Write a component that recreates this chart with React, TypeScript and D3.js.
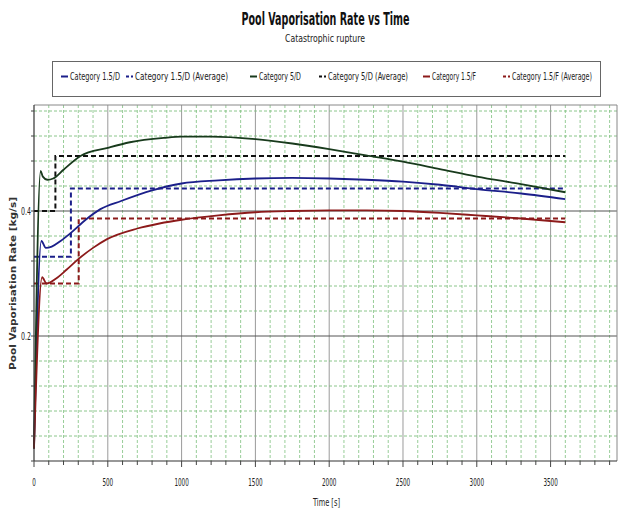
import React from "react";
import * as d3 from "d3";

// ---- Data ----
const cat15DTime = [0, 50, 80, 120, 180, 250, 350, 450, 590, 800, 1000, 1250, 1500, 1750, 2000, 2250, 2500, 2750, 3000, 3300, 3600];
const cat15DRate = [0.02, 0.352, 0.341, 0.343, 0.352, 0.365, 0.386, 0.403, 0.416, 0.433, 0.444, 0.449, 0.452, 0.453, 0.452, 0.450, 0.447, 0.442, 0.435, 0.428, 0.419];

const cat5DTime = [0, 45, 60, 90, 130, 200, 315, 500, 650, 880, 1000, 1200, 1500, 1750, 2000, 2250, 2500, 2750, 3000, 3300, 3600];
const cat5DRate = [0.02, 0.464, 0.455, 0.450, 0.452, 0.466, 0.488, 0.501, 0.510, 0.517, 0.519, 0.519, 0.515, 0.508, 0.499, 0.489, 0.479, 0.467, 0.455, 0.443, 0.430];

const cat15FTime = [0, 55, 85, 150, 220, 300, 400, 495, 700, 850, 1000, 1250, 1500, 1750, 2000, 2250, 2500, 2750, 3000, 3300, 3600];
const cat15FRate = [0.02, 0.294, 0.284, 0.292, 0.306, 0.323, 0.341, 0.355, 0.372, 0.380, 0.386, 0.393, 0.398, 0.400, 0.401, 0.401, 0.400, 0.397, 0.393, 0.388, 0.382];

// averages: step series (start value, value after step)
const avg15DTime = [0, 250, 3600];
const avg15DRate = [0.327, 0.436, 0.436];
const avg5DTime = [0, 145, 3600];
const avg5DRate = [0.400, 0.488, 0.488];
const avg15FTime = [0, 303, 3600];
const avg15FRate = [0.284, 0.388, 0.388];

const xTickLabels = [0, 500, 1000, 1500, 2000, 2500, 3000, 3500];
const yTickLabels = [0.2, 0.4];

const legendLabels = [
  "Category 1.5/D",
  "Category 1.5/D (Average)",
  "Category 5/D",
  "Category 5/D (Average)",
  "Category 1.5/F",
  "Category 1.5/F (Average)",
];

// ---- Styles / layout ----
const BLUE = "#1b1f8a";
const GREEN = "#183a1c";
const RED = "#8c1a1a";
const BLACK = "#111111";

const W = 620;
const H = 509;
const left = 34;
const right = 617;
const top = 105;
const bottom = 461;

const NARROW = "'Liberation Sans Narrow', 'Arial Narrow', 'DejaVu Sans Condensed', sans-serif";

export default function App() {
  const x = d3.scaleLinear().domain([0, 3950]).range([left, right]);
  const y = d3.scaleLinear().domain([0, 0.5696]).range([bottom, top]);

  const line = d3
    .line<[number, number]>()
    .x((d) => x(d[0]))
    .y((d) => y(d[1]))
    .curve(d3.curveMonotoneX);
  const stepLine = d3
    .line<[number, number]>()
    .x((d) => x(d[0]))
    .y((d) => y(d[1]))
    .curve(d3.curveStepAfter);

  const zip = (t: number[], v: number[]) => t.map((tt, i) => [tt, v[i]] as [number, number]);

  const series = [
    { t: cat15DTime, v: cat15DRate, color: BLUE, dashed: false },
    { t: avg15DTime, v: avg15DRate, color: BLUE, dashed: true },
    { t: cat5DTime, v: cat5DRate, color: GREEN, dashed: false },
    { t: avg5DTime, v: avg5DRate, color: BLACK, dashed: true },
    { t: cat15FTime, v: cat15FRate, color: RED, dashed: false },
    { t: avg15FTime, v: avg15FRate, color: RED, dashed: true },
  ];

  const xGrid = d3.range(100, 3950, 100);
  const yGrid = d3.range(1, 15).map((i) => i * 0.04);
  const xTicks = d3.range(0, 3950, 100);
  const yTicks = d3.range(0, 15).map((i) => i * 0.04);

  const legendX = [61, 126, 250, 319, 423, 503];
  const legendW = [50, 93, 42, 80, 44, 80];
  const legendY = 80;

  const drawOrder = [1, 3, 5, 0, 2, 4];

  return (
    <svg width={W} height={H} style={{ position: "absolute", left: 0, top: 0, background: "#fff" }}>
      <rect x={0} y={0} width={W} height={H} fill="#fff" />
      {/* Title */}
      <text x={325.5} y={25} textAnchor="middle" fontFamily={NARROW} fontWeight="bold" fontSize={17} fill="#111"
        textLength={168} lengthAdjust="spacingAndGlyphs">
        Pool Vaporisation Rate vs Time
      </text>
      <text x={325} y={42} textAnchor="middle" fontFamily={NARROW} fontSize={11} fill="#222"
        textLength={80} lengthAdjust="spacingAndGlyphs">
        Catastrophic rupture
      </text>

      {/* Legend */}
      <rect x={52.5} y={61.5} width={548} height={35} fill="#fff" stroke="#666" strokeWidth={1} />
      {legendLabels.map((lab, i) => {
        const s = series[i];
        const lx = legendX[i];
        return (
          <g key={lab}>
            <line x1={lx} x2={lx + 7} y1={legendY - 3.5} y2={legendY - 3.5} stroke={s.color} strokeWidth={2}
              strokeDasharray={s.dashed ? "3,2" : undefined} />
            <text x={lx + 9} y={legendY} fontFamily={NARROW} fontSize={10.5} fill="#222"
              textLength={legendW[i]} lengthAdjust="spacingAndGlyphs">
              {lab}
            </text>
          </g>
        );
      })}

      {/* Grid */}
      {xGrid.map((t) =>
        t % 500 === 0 ? (
          <line key={"vx" + t} x1={x(t)} x2={x(t)} y1={top} y2={bottom} stroke="#9a9a9a" strokeWidth={1} />
        ) : (
          <line key={"vx" + t} x1={x(t)} x2={x(t)} y1={top} y2={bottom} stroke="#8cc78c" strokeWidth={0.9}
            strokeDasharray="3,2" />
        )
      )}
      {yGrid.map((v, i) =>
        (i + 1) % 5 === 0 ? (
          <line key={"hy" + i} x1={left} x2={right} y1={y(v)} y2={y(v)} stroke="#555" strokeWidth={1} />
        ) : (
          <line key={"hy" + i} x1={left} x2={right} y1={y(v)} y2={y(v)} stroke="#7fbf7f" strokeWidth={0.9}
            strokeDasharray="3,2" />
        )
      )}

      {/* Frame */}
      <line x1={left} x2={right} y1={top} y2={top} stroke="#888" strokeWidth={1} />
      <line x1={right} x2={right} y1={top} y2={bottom} stroke="#888" strokeWidth={1} />

      {/* Series */}
      {drawOrder.map((i) => {
        const s = series[i];
        const pts = zip(s.t, s.v);
        return (
          <path key={"s" + i} d={(s.dashed ? stepLine(pts) : line(pts)) || ""} fill="none" stroke={s.color}
            strokeWidth={s.dashed ? 2 : 1.8} strokeDasharray={s.dashed ? "5,3" : undefined} />
        );
      })}

      {/* Axes */}
      <line x1={left} x2={left} y1={top} y2={bottom} stroke="#333" strokeWidth={1.2} />
      <line x1={left} x2={right} y1={bottom} y2={bottom} stroke="#333" strokeWidth={1.2} />
      {xTicks.map((t) => (
        <line key={"xt" + t} x1={x(t)} x2={x(t)} y1={bottom} y2={bottom + (t % 500 === 0 ? 6 : 4)} stroke="#444" strokeWidth={1} />
      ))}
      {yTicks.map((v, i) => (
        <line key={"yt" + i} x1={left - 3} x2={left} y1={y(v)} y2={y(v)} stroke="#444" strokeWidth={1} />
      ))}
      {xTickLabels.map((t) => (
        <text key={"xl" + t} x={x(t)} y={486} textAnchor="middle" fontFamily={NARROW} fontSize={11} fill="#222"
          textLength={String(t).length * 3.6} lengthAdjust="spacingAndGlyphs">
          {t}
        </text>
      ))}
      {yTickLabels.map((v) => (
        <text key={"yl" + v} x={31} y={y(v) + 3.5} textAnchor="end" fontFamily={NARROW} fontSize={11} fill="#222"
          textLength={10} lengthAdjust="spacingAndGlyphs">
          {v.toFixed(1)}
        </text>
      ))}

      {/* Axis titles */}
      <text x={326.5} y={506} textAnchor="middle" fontFamily={NARROW} fontSize={11} fill="#222"
        textLength={27} lengthAdjust="spacingAndGlyphs">
        Time [s]
      </text>
      <text transform={`translate(16, 283.5) rotate(-90)`} textAnchor="middle" fontFamily="'DejaVu Sans', Verdana, sans-serif"
        fontWeight="bold" fontSize={8.5} fill="#333" textLength={173} lengthAdjust="spacingAndGlyphs">
        Pool Vaporisation Rate [kg/s]
      </text>
    </svg>
  );
}
